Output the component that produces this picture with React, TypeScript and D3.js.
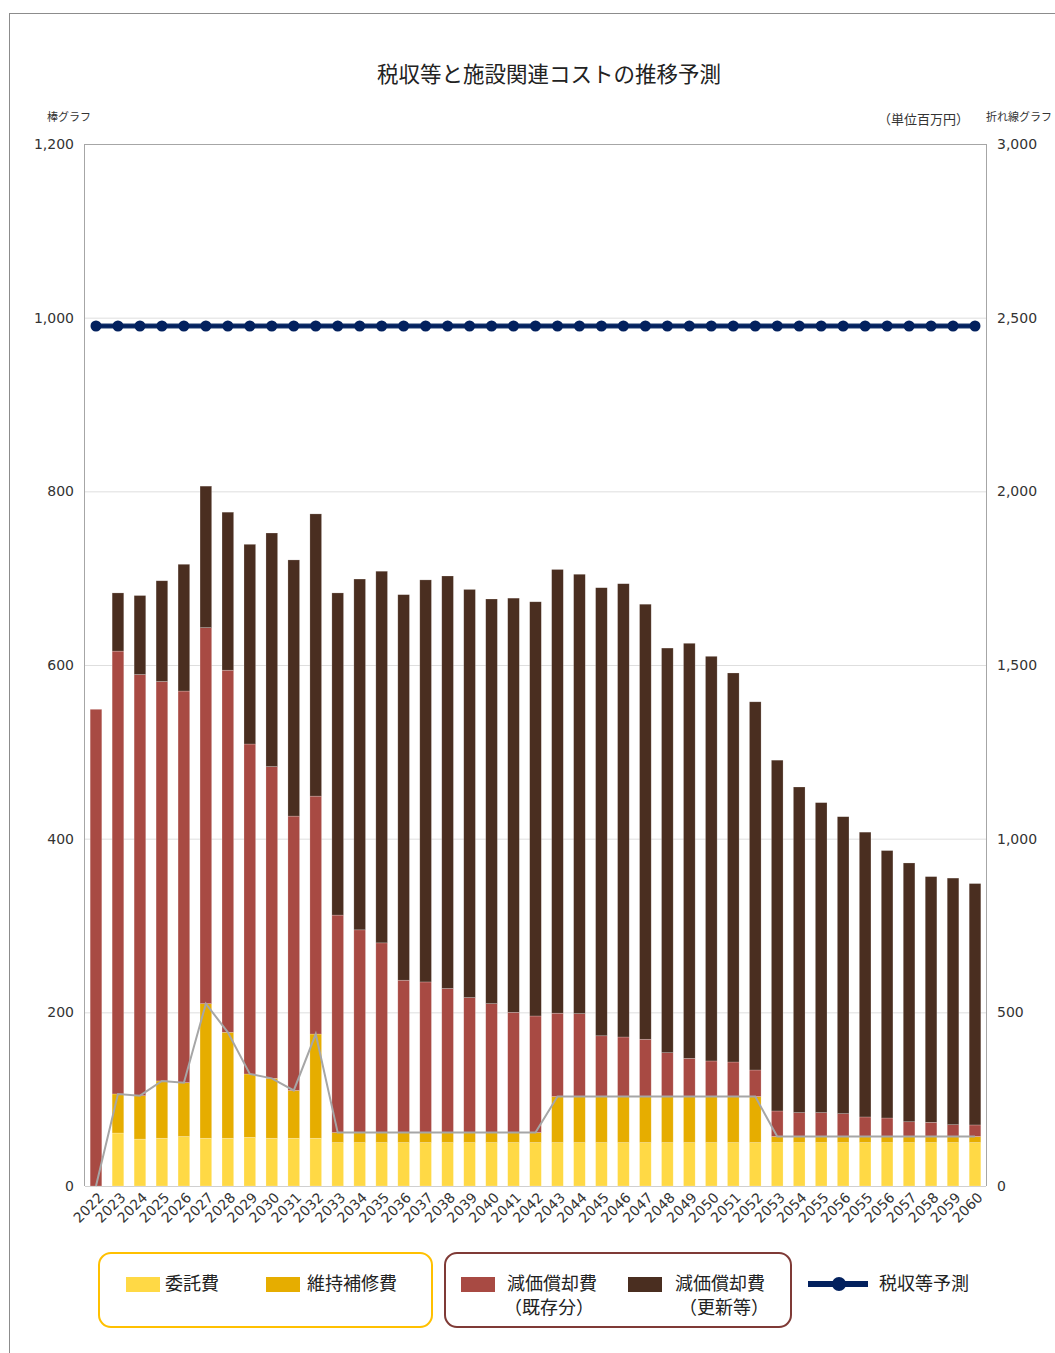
import React from "react";
import * as d3 from "d3";

const years = ["2022","2023","2024","2025","2026","2027","2028","2029","2030","2031","2032","2033","2034","2035","2036","2037","2038","2039","2040","2041","2042","2043","2044","2045","2046","2047","2048","2049","2050","2051","2052","2053","2054","2055","2056","2055","2056","2057","2058","2059","2060"];

// 委託費
const itaku = [0,61,54,55,57,55,55,56,55,55,55,50,50,50,50,50,50,50,50,50,50,50,50,50,50,50,50,50,50,50,50,50,50,50,50,50,50,50,50,50,50];
// 維持補修費
const iji = [0,45,50,66,62,155,122,73,69,55,120,11.5,11.5,11.5,11.5,11.5,11.5,11.5,11.5,11.5,11.5,53,53,53,53,53,53,53,53,53,53,7,7,7,7,7,7,7,7,7,7];
// 減価償却費（既存分）
const kizon = [549,510,485,460,451,433,417,380,359,316,274,250.5,233.5,218.5,175.5,173.5,166,155.5,148.5,138.5,134.3,96,95.5,70,68.6,66,50.5,44,41,39.8,30.6,29.4,27.5,27.5,26.3,22.5,21.3,17,16.3,13.6,13.3];
// 減価償却費（更新等）
const koushin = [0,67,91,116,146,163,182,230,269,295,325,371,404,428,444,463,475,470,466,477,477,511,506,516,522,501,466,478,466,448,424,404,375,357,342,328,308,298,283,284,278];
// 税収等予測 (right axis)
const tax = [2476,2476,2476,2476,2476,2476,2476,2476,2476,2476,2476,2476,2476,2476,2476,2476,2476,2476,2476,2476,2476,2476,2476,2476,2476,2476,2476,2476,2476,2476,2476,2476,2476,2476,2476,2476,2476,2476,2476,2476,2476];

const leftTicks = [0,200,400,600,800,1000,1200];
const rightTicks = [0,500,1000,1500,2000,2500,3000];

const seriesNames = ["委託費","維持補修費","減価償却費（既存分）","減価償却費（更新等）"];
const colors = ["#FFD945","#E6AD00","#A84A43","#4A2E20"];
const navy = "#03215E";

const W = 1055, H = 1353;
const L = 85, R = 986, T = 144, B = 1186;
const numFont = "'DejaVu Sans', Verdana, sans-serif";
const jpFont = "'Noto Sans CJK JP', 'Noto Sans', sans-serif";

export default function App() {
  const idx = years.map((_, i) => String(i));
  const x = d3.scaleBand<string>().domain(idx).range([L, R]).paddingInner(0.47).paddingOuter(0.235);
  const y = d3.scaleLinear().domain([0, 1200]).range([B, T]);
  const y2 = d3.scaleLinear().domain([0, 3000]).range([B, T]);
  const bw = x.bandwidth();
  const cx = (i: number) => (x(String(i)) as number) + bw / 2;

  const rows = years.map((_, i) => ({ i, v: [itaku[i], iji[i], kizon[i], koushin[i]] }));
  const stack = d3.stack<any>().keys(["0","1","2","3"]).value((d, k) => d.v[+k]);
  const stacked = stack(rows);

  const grayLine = d3.line<number>().x((_, i) => cx(i)).y((d, i) => y(itaku[i] + iji[i]));
  const taxLine = d3.line<number>().x((_, i) => cx(i)).y((d) => y2(d));

  return (
    <div style={{ position: "absolute", left: 0, top: 0 }}>
      <svg width={W} height={H} style={{ display: "block", background: "#fff" }}>
        <rect x={9.5} y={13.5} width={W + 20} height={H + 20} fill="#fff" stroke="#8c8c8c" strokeWidth={1} />
        <text x={549} y={82} textAnchor="middle" fontFamily={jpFont} fontSize={21.5} fill="#222">税収等と施設関連コストの推移予測</text>
        <text x={47} y={121} fontFamily={jpFont} fontSize={11} fill="#333">棒グラフ</text>
        <text x={969} y={124} textAnchor="end" fontFamily={jpFont} fontSize={13} fill="#333">（単位百万円）</text>
        <text x={986} y={121} fontFamily={jpFont} fontSize={11} fill="#333">折れ線グラフ</text>

        {leftTicks.map((t) => (
          <g key={"g" + t}>
            <line x1={L} x2={R} y1={y(t) + 0.5} y2={y(t) + 0.5} stroke={t === 0 ? "#d0d0d0" : t === 1200 ? "#a6a6a6" : "#dedede"} strokeWidth={1} />
            <text x={74} y={y(t)} dy="0.35em" textAnchor="end" fontFamily={numFont} fontSize={14} fill="#333">{d3.format(",")(t)}</text>
          </g>
        ))}
        {rightTicks.map((t) => (
          <text key={"r" + t} x={997} y={y2(t)} dy="0.35em" fontFamily={numFont} fontSize={14} fill="#333">{d3.format(",")(t)}</text>
        ))}
        <line x1={L - 0.5} x2={L - 0.5} y1={T} y2={B} stroke="#a6a6a6" />
        <line x1={R + 0.5} x2={R + 0.5} y1={T} y2={B} stroke="#a6a6a6" />

        {stacked.map((s, k) => (
          <g key={"s" + k} fill={colors[k]}>
            {s.map((d, i) => (
              d[1] - d[0] > 0 ? (
                <rect key={i} x={x(String(i))} y={y(d[1])} width={bw} height={y(d[0]) - y(d[1])} stroke="rgba(255,255,255,0.35)" strokeWidth={0.6} />
              ) : null
            ))}
          </g>
        ))}

        <path d={grayLine(itaku) as string} fill="none" stroke="#a6a6a6" strokeWidth={2} />

        <path d={taxLine(tax) as string} fill="none" stroke="#1d3a70" strokeWidth={5} />
        <path d={taxLine(tax) as string} fill="none" stroke={navy} strokeWidth={3} />
        {tax.map((v, i) => (
          <circle key={"c" + i} cx={cx(i)} cy={y2(v)} r={5.5} fill={navy} />
        ))}

        {years.map((yr, i) => (
          <text key={"x" + i} transform={`translate(${cx(i) + 5},${B + 9}) rotate(-45)`} textAnchor="end" dy="0.35em" fontFamily={numFont} fontSize={14} fill="#333">{yr}</text>
        ))}

        {/* Legend */}
        <rect x={99} y={1253} width={333} height={74} rx={12} fill="none" stroke="#FFC000" strokeWidth={2} />
        <rect x={445} y={1253} width={346} height={74} rx={12} fill="none" stroke="#7F3A36" strokeWidth={2} />

        <rect x={126} y={1277} width={34} height={15} fill={colors[0]} />
        <text x={165} y={1284} dy="0.35em" fontFamily={jpFont} fontSize={18} fill="#222">{seriesNames[0]}</text>
        <rect x={266} y={1277} width={34} height={15} fill={colors[1]} />
        <text x={307} y={1284} dy="0.35em" fontFamily={jpFont} fontSize={18} fill="#222">{seriesNames[1]}</text>

        <rect x={461} y={1277} width={34} height={15} fill={colors[2]} />
        <text x={552} y={1284} dy="0.35em" textAnchor="middle" fontFamily={jpFont} fontSize={18} fill="#222">減価償却費</text>
        <text x={549} y={1308} dy="0.35em" textAnchor="middle" fontFamily={jpFont} fontSize={18} fill="#222">（既存分）</text>
        <rect x={628} y={1277} width={34} height={15} fill={colors[3]} />
        <text x={720} y={1284} dy="0.35em" textAnchor="middle" fontFamily={jpFont} fontSize={18} fill="#222">減価償却費</text>
        <text x={724} y={1308} dy="0.35em" textAnchor="middle" fontFamily={jpFont} fontSize={18} fill="#222">（更新等）</text>

        <line x1={808} x2={868} y1={1284} y2={1284} stroke={navy} strokeWidth={6} />
        <circle cx={839} cy={1284} r={7} fill={navy} />
        <text x={879} y={1284} dy="0.35em" fontFamily={jpFont} fontSize={18} fill="#222">税収等予測</text>
      </svg>
    </div>
  );
}
